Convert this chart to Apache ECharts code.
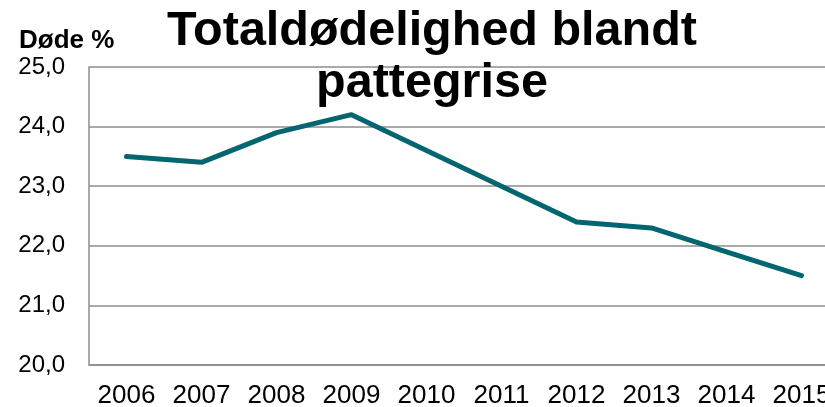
<!DOCTYPE html>
<html>
<head>
<meta charset="utf-8">
<script src="https://cdn.jsdelivr.net/npm/echarts@6/dist/echarts.min.js"></script>
<style>
html,body{margin:0;padding:0;background:#fff;}
#chart{width:825px;height:407px;}
</style>
</head>
<body>
<div id="chart"></div>
<script>
const titleText = "Totaldødelighed blandt\npattegrise";
const yAxisTitle = "Døde %";
const years = ["2006","2007","2008","2009","2010","2011","2012","2013","2014","2015"];
const mortality = [23.5, 23.4, 23.9, 24.2, 23.6, 23.0, 22.4, 22.3, 21.9, 21.5];
const yMin = 20, yMax = 25, yStep = 1;

const chart = echarts.init(document.getElementById('chart'));
chart.setOption({
  animation: false,
  backgroundColor: '#ffffff',
  title: {
    text: titleText,
    left: 427,
    top: 1,
    textAlign: 'center',
    textStyle: {
      fontFamily: 'Liberation Sans',
      fontSize: 48.5,
      lineHeight: 52,
      fontWeight: 'bold',
      color: '#000000'
    }
  },
  graphic: [{
    type: 'text',
    left: 19,
    top: 28,
    style: {
      text: yAxisTitle,
      fontFamily: 'Liberation Sans',
      fontSize: 26,
      fontWeight: 'bold',
      fill: '#000000'
    }
  }],
  grid: { left: 89, top: 67, width: 750, height: 298, containLabel: false, outerBoundsMode: 'none' },
  xAxis: {
    type: 'category',
    data: years,
    boundaryGap: true,
    axisLine: { show: true, lineStyle: { color: '#8c8c8c', width: 1.5 } },
    axisTick: { show: false },
    axisLabel: {
      margin: 18,
      fontFamily: 'Liberation Sans',
      fontSize: 26,
      color: '#000000',
      interval: 0
    },
    splitLine: { show: false }
  },
  yAxis: {
    type: 'value',
    min: yMin,
    max: yMax,
    interval: yStep,
    axisLine: { show: true, lineStyle: { color: '#8c8c8c', width: 1.5 } },
    axisTick: { show: false },
    axisLabel: {
      margin: 24,
      fontFamily: 'Liberation Sans',
      fontSize: 24,
      color: '#000000',
      formatter: v => v.toFixed(1).replace('.', ',')
    },
    splitLine: { show: true, lineStyle: { color: '#8c8c8c', width: 1.5 } }
  },
  series: [{
    type: 'line',
    data: mortality,
    symbol: 'none',
    lineStyle: { color: '#03656f', width: 5, cap: 'round', join: 'round' },
    itemStyle: { color: '#03656f' }
  }]
});
</script>
</body>
</html>
